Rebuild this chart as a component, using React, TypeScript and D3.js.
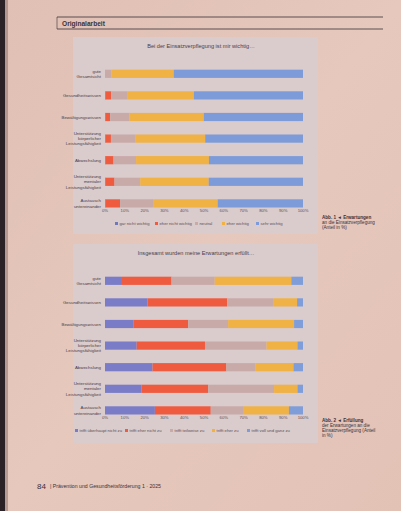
import React from "react";
import * as d3 from "d3";

const W = 401;
const H = 511;

const categories1 = [
  ["gute", "Gesamtsicht"],
  ["Gesundheitswissen"],
  ["Bewältigungswissen"],
  ["Unterstützung", "körperlicher", "Leistungsfähigkeit"],
  ["Abwechslung"],
  ["Unterstützung", "mentaler", "Leistungsfähigkeit"],
  ["Austausch", "untereinander"],
];
const categories2 = categories1;

const keys1 = ["gar nicht wichtig", "eher nicht wichtig", "neutral", "eher wichtig", "sehr wichtig"];
const keys2 = ["trifft überhaupt nicht zu", "trifft eher nicht zu", "trifft teilweise zu", "trifft eher zu", "trifft voll und ganz zu"];

// chart 1 values per category: [gar nicht, eher nicht, neutral, eher wichtig, sehr wichtig]
const garNicht1 = [0, 0.3, 0.3, 0.3, 0.3, 0.3, 0.3];
const eherNicht1 = [0, 2.8, 2.3, 2.7, 4.0, 4.5, 7.3];
const neutral1 = [3.3, 8.4, 9.7, 12.5, 11.4, 13.0, 16.7];
const eherWichtig1 = [31.4, 33.4, 37.6, 35.1, 36.8, 34.6, 32.6];
const sehrWichtig1 = [65.3, 55.1, 50.1, 49.4, 47.5, 47.6, 43.1];

// chart 2 values
const ueberhauptNicht2 = [8.1, 21.5, 14.3, 16.0, 24.0, 18.5, 25.2];
const eherNicht2 = [25.5, 40.2, 27.7, 34.5, 37.3, 33.6, 28.2];
const teilweise2 = [21.8, 23.2, 20.2, 31.1, 14.6, 33.3, 16.3];
const eherZu2 = [38.7, 12.1, 33.3, 15.6, 19.3, 11.8, 23.2];
const vollGanz2 = [5.9, 3.0, 4.5, 2.8, 4.8, 2.8, 7.1];

const ticks = [0, 10, 20, 30, 40, 50, 60, 70, 80, 90, 100];

const colors1 = ["#6f78b8", "#ee5b3f", "#c8aba9", "#f0b145", "#7d9bd8"];
const colors2 = ["#7a7cc7", "#ee5b3f", "#c8aba9", "#f0b145", "#7f9ed9"];

const FONT = "'Liberation Sans', Arial, sans-serif";

type ChartProps = {
  top: number;
  title: string;
  titleX: number;
  cats: string[][];
  keys: string[];
  series: number[][];
  colors: string[];
  legendX: number;
  legendGaps: number[];
};

function Chart({ top, title, titleX, cats, keys, series, colors, legendX, legendGaps }: ChartProps) {
  const x = d3.scaleLinear().domain([0, 100]).range([105, 303]);
  const rows = cats.map((c, i) => {
    const o: Record<string, number> = { idx: i };
    keys.forEach((k, j) => (o[k] = series[j][i]));
    return o;
  });
  const y = d3
    .scaleBand<number>()
    .domain(d3.range(cats.length))
    .range([top + 26, top + 26 + 7 * 21.6])
    .paddingInner(0.62)
    .paddingOuter(0.31);
  const stack = d3.stack<Record<string, number>>().keys(keys);
  const layers = stack(rows);
  const axisY = top + 175;
  const legendY = top + 188;
  let lx = legendX;
  return (
    <g>
      <text x={titleX} y={top + 11} fontSize={5.6} fill="#4a4048" textAnchor="middle" fontFamily={FONT}>
        {title}
      </text>
      {layers.map((layer, li) => (
        <g key={li}>
          {layer.map((d, di) => (
            <rect
              key={di}
              x={x(d[0])}
              y={y(di)}
              width={Math.max(0, x(d[1]) - x(d[0]))}
              height={y.bandwidth()}
              fill={colors[li]}
            />
          ))}
        </g>
      ))}
      {cats.map((lines, i) => {
        const cy = (y(i) as number) + y.bandwidth() / 2;
        const lh = 5.2;
        const start = cy - ((lines.length - 1) * lh) / 2 + 1.6;
        return (
          <text key={i} textAnchor="end" fontSize={4.4} fill="#4a4048" fontFamily={FONT}>
            {lines.map((l, j) => (
              <tspan key={j} x={101} y={start + j * lh}>
                {l}
              </tspan>
            ))}
          </text>
        );
      })}
      {ticks.map((t) => (
        <text key={t} x={x(t)} y={axisY} fontSize={4.2} fill="#5a5058" textAnchor="middle" fontFamily={FONT}>
          {t + "%"}
        </text>
      ))}
      {keys.map((k, i) => {
        const cx = lx;
        lx += legendGaps[i];
        return (
          <g key={k}>
            <rect x={cx} y={legendY - 3} width={3} height={3} fill={colors[i]} />
            <text x={cx + 4.5} y={legendY} fontSize={4.2} fill="#5a5058" fontFamily={FONT}>
              {k}
            </text>
          </g>
        );
      })}
    </g>
  );
}

export default function App() {
  return (
    <svg
      width={W}
      height={H}
      style={{ position: "absolute", left: 0, top: 0, display: "block" }}
      xmlns="http://www.w3.org/2000/svg"
    >
      <defs>
        <linearGradient id="pg" x1="0" y1="0" x2="1" y2="1">
          <stop offset="0" stopColor="#e0bfb4" />
          <stop offset="0.5" stopColor="#e6c8bd" />
          <stop offset="1" stopColor="#e3c2b6" />
        </linearGradient>
      </defs>
      <rect x={0} y={0} width={W} height={H} fill="url(#pg)" />
      <rect x={0} y={0} width={5} height={H} fill="#2a2226" />
      <rect x={5} y={0} width={3} height={H} fill="#8a6e6a" opacity={0.5} />

      {/* header */}
      <line x1={57} y1={17} x2={383} y2={17} stroke="#3a3036" strokeWidth={0.8} />
      <line x1={57} y1={29} x2={383} y2={29} stroke="#3a3036" strokeWidth={0.8} />
      <line x1={57} y1={17} x2={57} y2={29} stroke="#3a3036" strokeWidth={0.6} />
      <text x={62} y={25.5} fontSize={6.6} fontWeight="bold" fill="#3a3238" fontFamily={FONT}>
        Originalarbeit
      </text>

      {/* panels */}
      <rect x={73} y={37} width={245} height={197} fill="#dacbcc" />
      <rect x={73} y={244} width={245} height={199} fill="#dacbcc" />

      <Chart
        top={37}
        title="Bei der Einsatzverpflegung ist mir wichtig…"
        titleX={201}
        cats={categories1}
        keys={keys1}
        series={[garNicht1, eherNicht1, neutral1, eherWichtig1, sehrWichtig1]}
        colors={colors1}
        legendX={115}
        legendGaps={[40, 40, 27, 34, 32]}
      />
      <Chart
        top={244}
        title="Insgesamt wurden meine Erwartungen erfüllt…"
        titleX={196}
        cats={categories2}
        keys={keys2}
        series={[ueberhauptNicht2, eherNicht2, teilweise2, eherZu2, vollGanz2]}
        colors={colors2}
        legendX={75}
        legendGaps={[50, 45, 42, 35, 45]}
      />

      {/* captions */}
      <text fontSize={4.6} fill="#3a3238" fontFamily={FONT}>
        <tspan x={322} y={219} fontWeight="bold">Abb. 1 ◄ Erwartungen</tspan>
        <tspan x={322} y={224}>an die Einsatzverpflegung</tspan>
        <tspan x={322} y={229}>(Anteil in %)</tspan>
      </text>
      <text fontSize={4.6} fill="#3a3238" fontFamily={FONT}>
        <tspan x={322} y={422} fontWeight="bold">Abb. 2 ◄ Erfüllung</tspan>
        <tspan x={322} y={427}>der Erwartungen an die</tspan>
        <tspan x={322} y={432}>Einsatzverpflegung (Anteil</tspan>
        <tspan x={322} y={437}>in %)</tspan>
      </text>

      {/* footer */}
      <text x={37} y={489} fontSize={8} fill="#3a3238" fontFamily={FONT}>
        84
      </text>
      <text x={50} y={488} fontSize={5.2} fill="#3a3238" fontFamily={FONT}>
        | Prävention und Gesundheitsförderung 1 · 2025
      </text>
    </svg>
  );
}
